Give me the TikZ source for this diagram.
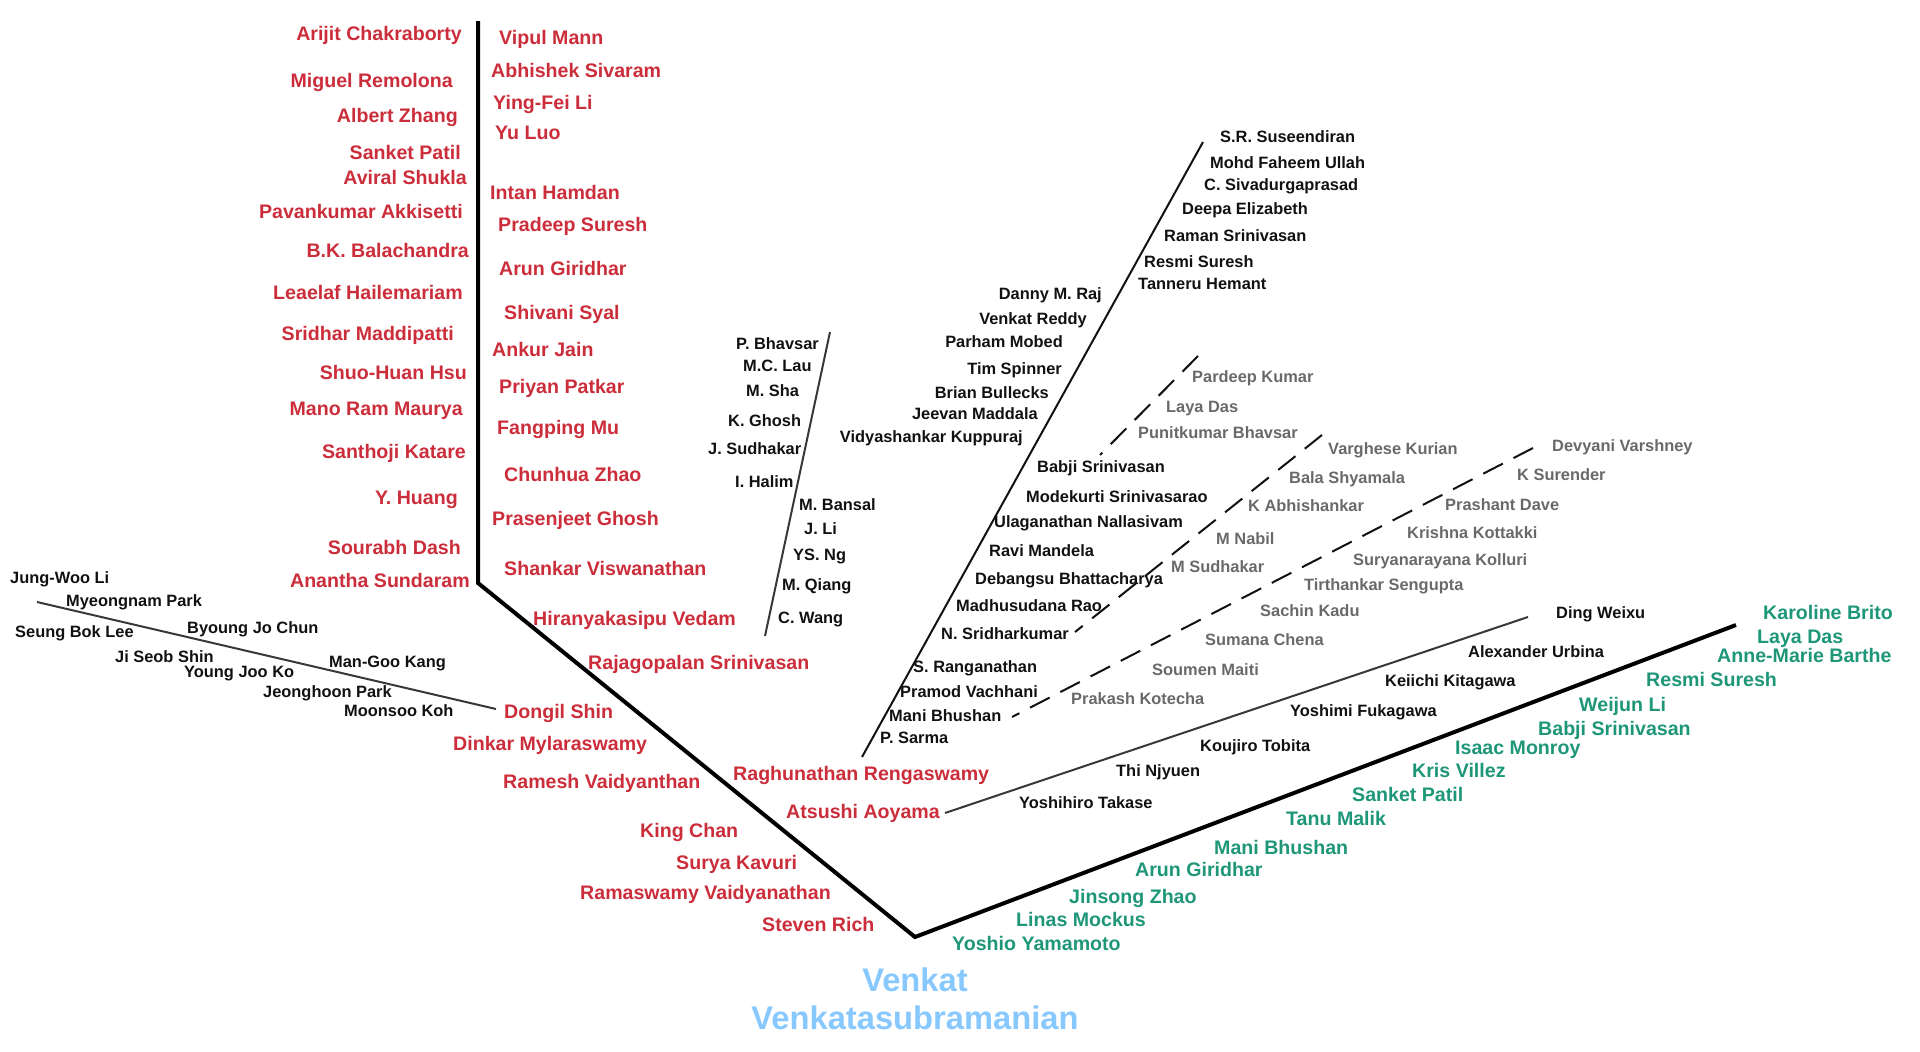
\documentclass[tikz,border=0pt]{standalone}
\usepackage{fontspec}
\setmainfont{Liberation Sans}
\definecolor{rd}{RGB}{204,45,58}
\definecolor{gn}{RGB}{30,150,120}
\definecolor{gy}{RGB}{105,105,105}
\definecolor{bl}{RGB}{135,200,255}
\definecolor{bk}{RGB}{17,17,17}
\begin{document}
\begin{tikzpicture}[x=1pt,y=-1pt,
  big/.style={inner sep=0pt,text height=14pt,text depth=0pt,font=\fontsize{19.6pt}{22pt}\selectfont\bfseries},
  small/.style={inner sep=0pt,text height=11.8pt,text depth=0pt,font=\fontsize{16.4pt}{19pt}\selectfont\bfseries},
  rl/.style={big,text=rd},
  gl/.style={big,text=gn},
  kl/.style={small,text=bk},
  yl/.style={small,text=gy},
  E/.style={anchor=east},
  W/.style={anchor=west},
  trunk/.style={line width=4pt,black,line join=miter},
  twig/.style={line width=2pt,bk},
  graytwig/.style={line width=2pt,black!78},
  dashtwig/.style={line width=2pt,bk,dash pattern=on 22pt off 12pt}]
\useasboundingbox (0,0) rectangle (1920,1052);

% ---------- skeleton ----------
\coordinate (top) at (478,21);
\coordinate (elbow) at (478,583);
\coordinate (root) at (915,937);
\coordinate (gend) at (1736,625);
\coordinate (kA) at (37,602);   \coordinate (kB) at (496,709);
\coordinate (bA) at (830,332);  \coordinate (bB) at (765,636);
\coordinate (lA) at (1203,142); \coordinate (lB) at (862,757);
\coordinate (d1A) at (1198,356); \coordinate (d1B) at (1100,455);
\coordinate (d2A) at (1322,435); \coordinate (d2B) at (1075,632);
\coordinate (d3A) at (1533,448); \coordinate (d3B) at (1012,717);
\coordinate (jA) at (945,813);  \coordinate (jB) at (1528,617);

\draw[trunk] (top) -- (elbow) -- (root) -- (gend);
\draw[graytwig] (kA) -- (kB);
\draw[graytwig] (bA) -- (bB);
\draw[twig] (lA) -- (lB);
\draw[dashtwig] (d1A) -- (d1B);
\draw[dashtwig] (d2A) -- (d2B);
\draw[dashtwig] (d3A) -- (d3B);
\draw[graytwig] (jA) -- (jB);

% ---------- red, left of trunk ----------
\node[rl,E] (r1) at (462,33) {Arijit Chakraborty};
\node[rl,E] (r2) at (453,80) {Miguel Remolona};
\node[rl,E] (r3) at (458,115) {Albert Zhang};
\node[rl,E] (r4) at (461,152) {Sanket Patil};
\node[rl,E] (r5) at (467,177) {Aviral Shukla};
\node[rl,E] (r6) at (463,211) {Pavankumar Akkisetti};
\node[rl,E] (r7) at (469,250) {B.K. Balachandra};
\node[rl,E] (r8) at (463,292) {Leaelaf Hailemariam};
\node[rl,E] (r9) at (454,333) {Sridhar Maddipatti};
\node[rl,E] (r10) at (467,372) {Shuo-Huan Hsu};
\node[rl,E] (r11) at (463,408) {Mano Ram Maurya};
\node[rl,E] (r12) at (466,451) {Santhoji Katare};
\node[rl,E] (r13) at (458,497) {Y. Huang};
\node[rl,E] (r14) at (461,547) {Sourabh Dash};
\node[rl,E] (r15) at (470,580) {Anantha Sundaram};

% ---------- red, right of trunk ----------
\node[rl,W] (s1) at (499,37) {Vipul Mann};
\node[rl,W] (s2) at (491,70) {Abhishek Sivaram};
\node[rl,W] (s3) at (493,102) {Ying-Fei Li};
\node[rl,W] (s4) at (495,132) {Yu Luo};
\node[rl,W] (s5) at (490,192) {Intan Hamdan};
\node[rl,W] (s6) at (498,224) {Pradeep Suresh};
\node[rl,W] (s7) at (499,268) {Arun Giridhar};
\node[rl,W] (s8) at (504,312) {Shivani Syal};
\node[rl,W] (s9) at (492,349) {Ankur Jain};
\node[rl,W] (s10) at (499,386) {Priyan Patkar};
\node[rl,W] (s11) at (497,427) {Fangping Mu};
\node[rl,W] (s12) at (504,474) {Chunhua Zhao};
\node[rl,W] (s13) at (492,518) {Prasenjeet Ghosh};
\node[rl,W] (s14) at (504,568) {Shankar Viswanathan};
\node[rl,W] (s15) at (533,618) {Hiranyakasipu Vedam};
\node[rl,W] (s16) at (588,662) {Rajagopalan Srinivasan};
\node[rl,W] (s17) at (504,711) {Dongil Shin};
\node[rl,W] (s18) at (453,743) {Dinkar Mylaraswamy};
\node[rl,W] (s19) at (503,781) {Ramesh Vaidyanthan};
\node[rl,W] (s20) at (640,830) {King Chan};
\node[rl,W] (s21) at (676,862) {Surya Kavuri};
\node[rl,W] (s22) at (580,892) {Ramaswamy Vaidyanathan};
\node[rl,W] (s23) at (762,924) {Steven Rich};
\node[rl,W] (s24) at (733,773) {Raghunathan Rengaswamy};
\node[rl,W] (s25) at (786,811) {Atsushi Aoyama};

% ---------- green ----------
\node[gl,W] (g1) at (1763,612) {Karoline Brito};
\node[gl,W] (g2) at (1757,636) {Laya Das};
\node[gl,W] (g3) at (1717,655) {Anne-Marie Barthe};
\node[gl,W] (g4) at (1646,679) {Resmi Suresh};
\node[gl,W] (g5) at (1579,704) {Weijun Li};
\node[gl,W] (g6) at (1538,728) {Babji Srinivasan};
\node[gl,W] (g7) at (1455,747) {Isaac Monroy};
\node[gl,W] (g8) at (1412,770) {Kris Villez};
\node[gl,W] (g9) at (1352,794) {Sanket Patil};
\node[gl,W] (g10) at (1286,818) {Tanu Malik};
\node[gl,W] (g11) at (1214,847) {Mani Bhushan};
\node[gl,W] (g12) at (1135,869) {Arun Giridhar};
\node[gl,W] (g13) at (1069,896) {Jinsong Zhao};
\node[gl,W] (g14) at (1016,919) {Linas Mockus};
\node[gl,W] (g15) at (952,943) {Yoshio Yamamoto};

% ---------- Korean branch ----------
\node[kl,W] (k1) at (10,578) {Jung-Woo Li};
\node[kl,W] (k2) at (66,601) {Myeongnam Park};
\node[kl,W] (k3) at (15,632) {Seung Bok Lee};
\node[kl,W] (k4) at (187,628) {Byoung Jo Chun};
\node[kl,W] (k5) at (115,657) {Ji Seob Shin};
\node[kl,W] (k6) at (184,672) {Young Joo Ko};
\node[kl,W] (k7) at (329,662) {Man-Goo Kang};
\node[kl,W] (k8) at (263,692) {Jeonghoon Park};
\node[kl,W] (k9) at (344,711) {Moonsoo Koh};

% ---------- Bhavsar branch ----------
\node[kl,W] (b1) at (736,344) {P. Bhavsar};
\node[kl,W] (b2) at (743,366) {M.C. Lau};
\node[kl,W] (b3) at (746,391) {M. Sha};
\node[kl,W] (b4) at (728,421) {K. Ghosh};
\node[kl,W] (b5) at (708,449) {J. Sudhakar};
\node[kl,W] (b6) at (735,482) {I. Halim};
\node[kl,W] (b7) at (799,505) {M. Bansal};
\node[kl,W] (b8) at (804,529) {J. Li};
\node[kl,W] (b9) at (793,555) {YS. Ng};
\node[kl,W] (b10) at (782,585) {M. Qiang};
\node[kl,W] (b11) at (778,618) {C. Wang};

% ---------- long black branch ----------
\node[kl,E] (l1) at (1102,294) {Danny M. Raj};
\node[kl,E] (l2) at (1087,319) {Venkat Reddy};
\node[kl,E] (l3) at (1063,342) {Parham Mobed};
\node[kl,E] (l4) at (1062,369) {Tim Spinner};
\node[kl,E] (l5) at (1049,393) {Brian Bullecks};
\node[kl,E] (l6) at (1038,414) {Jeevan Maddala};
\node[kl,E] (l7) at (1023,437) {Vidyashankar Kuppuraj};
\node[kl,W] (m1) at (1220,137) {S.R. Suseendiran};
\node[kl,W] (m2) at (1210,163) {Mohd Faheem Ullah};
\node[kl,W] (m3) at (1204,185) {C. Sivadurgaprasad};
\node[kl,W] (m4) at (1182,209) {Deepa Elizabeth};
\node[kl,W] (m5) at (1164,236) {Raman Srinivasan};
\node[kl,W] (m6) at (1144,262) {Resmi Suresh};
\node[kl,W] (m7) at (1138,284) {Tanneru Hemant};
\node[kl,W] (m8) at (1037,467) {Babji Srinivasan};
\node[kl,W] (m9) at (1026,497) {Modekurti Srinivasarao};
\node[kl,W] (m10) at (994,522) {Ulaganathan Nallasivam};
\node[kl,W] (m11) at (989,551) {Ravi Mandela};
\node[kl,W] (m12) at (975,579) {Debangsu Bhattacharya};
\node[kl,W] (m13) at (956,606) {Madhusudana Rao};
\node[kl,W] (m14) at (941,634) {N. Sridharkumar};
\node[kl,W] (m15) at (913,667) {S. Ranganathan};
\node[kl,W] (m16) at (900,692) {Pramod Vachhani};
\node[kl,W] (m17) at (889,716) {Mani Bhushan};
\node[kl,W] (m18) at (880,738) {P. Sarma};

% ---------- gray (dashed) ----------
\node[yl,W] (y1) at (1192,377) {Pardeep Kumar};
\node[yl,W] (y2) at (1166,407) {Laya Das};
\node[yl,W] (y3) at (1138,433) {Punitkumar Bhavsar};
\node[yl,W] (y4) at (1328,449) {Varghese Kurian};
\node[yl,W] (y5) at (1289,478) {Bala Shyamala};
\node[yl,W] (y6) at (1248,506) {K Abhishankar};
\node[yl,W] (y7) at (1216,539) {M Nabil};
\node[yl,W] (y8) at (1171,567) {M Sudhakar};
\node[yl,W] (y9) at (1552,446) {Devyani Varshney};
\node[yl,W] (y10) at (1517,475) {K Surender};
\node[yl,W] (y11) at (1445,505) {Prashant Dave};
\node[yl,W] (y12) at (1407,533) {Krishna Kottakki};
\node[yl,W] (y13) at (1353,560) {Suryanarayana Kolluri};
\node[yl,W] (y14) at (1304,585) {Tirthankar Sengupta};
\node[yl,W] (y15) at (1260,611) {Sachin Kadu};
\node[yl,W] (y16) at (1205,640) {Sumana Chena};
\node[yl,W] (y17) at (1152,670) {Soumen Maiti};
\node[yl,W] (y18) at (1071,699) {Prakash Kotecha};

% ---------- Japanese branch ----------
\node[kl,W] (j1) at (1556,613) {Ding Weixu};
\node[kl,W] (j2) at (1468,652) {Alexander Urbina};
\node[kl,W] (j3) at (1385,681) {Keiichi Kitagawa};
\node[kl,W] (j4) at (1290,711) {Yoshimi Fukagawa};
\node[kl,W] (j5) at (1200,746) {Koujiro Tobita};
\node[kl,W] (j6) at (1116,771) {Thi Njyuen};
\node[kl,W] (j7) at (1019,803) {Yoshihiro Takase};

% ---------- root label ----------
\node[inner sep=0pt,align=center,text=bl,font=\fontsize{32.7pt}{38pt}\selectfont\bfseries] (vv) at (915,999) {Venkat\\Venkatasubramanian};
\end{tikzpicture}
\end{document}
